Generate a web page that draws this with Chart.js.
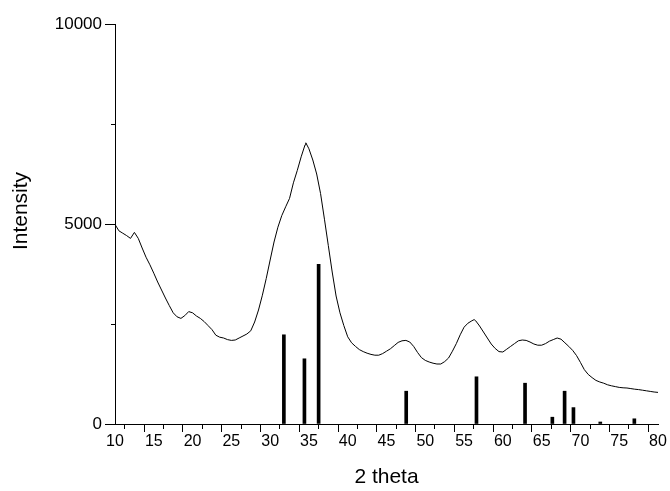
<!DOCTYPE html>
<html>
<head>
<meta charset="utf-8">
<script src="https://cdn.jsdelivr.net/npm/chart.js@4/dist/chart.umd.min.js"></script>
<style>
  html, body { margin: 0; padding: 0; background: #fff; }
  #wrap { width: 670px; height: 491px; }
</style>
</head>
<body>
<div id="wrap"><canvas id="xrd" width="670" height="491"></canvas></div>
<script>
// Measured diffraction pattern (2θ in degrees, intensity in counts)
const thetaDeg = [
  10, 10.5, 11, 11.5, 12, 12.5, 13, 13.5, 14, 14.5,
  15, 15.5, 16, 16.5, 17, 17.5, 18, 18.5, 19, 19.5,
  20, 20.5, 21, 21.5, 22, 22.5, 23, 23.5, 24, 24.5,
  25, 25.5, 26, 26.5, 27, 27.5, 28, 28.5, 29, 29.5,
  30, 30.5, 31, 31.5, 32, 32.5, 33, 33.5, 34, 34.5, 34.6,
  35, 35.5, 36, 36.5, 37, 37.5, 38, 38.5, 39, 39.5,
  40, 40.5, 41, 41.5, 42, 42.5, 43, 43.5, 44, 44.5,
  45, 45.5, 46, 46.5, 47, 47.5, 48, 48.5, 49, 49.5,
  50, 50.5, 51, 51.5, 52, 52.5, 53, 53.5, 54, 54.5,
  55, 55.5, 56, 56.3, 56.5, 57, 57.5, 58, 58.5, 59, 59.5,
  60, 60.5, 61, 61.5, 62, 62.5, 63, 63.5, 64, 64.5,
  65, 65.5, 66, 66.5, 67, 67.5, 68, 68.5, 69, 69.5,
  70, 70.5, 71, 71.5, 72, 72.5, 73, 73.5, 74, 74.5,
  75, 75.5, 76, 76.5, 77, 77.5, 78, 78.5, 79, 79.5, 80
];
const intensityCounts = [
  4990, 4830, 4770, 4710, 4640, 4790, 4640, 4400, 4170, 3980,
  3770, 3550, 3350, 3150, 2960, 2780, 2680, 2640, 2710, 2810,
  2780, 2700, 2640, 2560, 2460, 2360, 2220, 2170, 2150, 2110,
  2090, 2100, 2150, 2200, 2250, 2330, 2550, 2850, 3220, 3640,
  4100, 4550, 4920, 5210, 5430, 5640, 6030, 6340, 6680, 6980, 7030,
  6880, 6600, 6250, 5760, 5120, 4460, 3800, 3200, 2780, 2460,
  2180, 2030, 1940, 1860, 1810, 1770, 1740, 1720, 1720, 1760,
  1820, 1880, 1960, 2040, 2080, 2090, 2050, 1940, 1790, 1660,
  1590, 1550, 1520, 1500, 1500, 1560, 1650, 1820, 2010, 2230,
  2420, 2520, 2580, 2610, 2580, 2450, 2300, 2150, 2000, 1890, 1810,
  1800, 1870, 1940, 2010, 2080, 2100, 2090, 2050, 2000, 1970,
  1970, 2010, 2070, 2110, 2150, 2120, 2030, 1940, 1840, 1710,
  1540, 1360, 1240, 1160, 1090, 1050, 1020, 980, 955, 935,
  915, 905, 900, 885, 870, 860, 845, 830, 815, 800, 790
];

// Reference stick pattern (peak positions and relative heights)
const refPeakPos = [31.77, 34.42, 36.25, 47.54, 56.60, 62.86, 66.38, 67.96, 69.10, 72.56, 76.95];
const refPeakInt = [2230, 1630, 3990, 820, 1180, 1020, 170, 820, 410, 50, 130];

// Axis ranges and tick steps
const xMin = 10, xMax = 80, xMajor = 5, xMinor = 2.5;
const yMin = 0, yMax = 10000, yMajor = 5000, yMinor = 2500;

const xTitle = '2 theta';
const yTitle = 'Intensity';

const FONT = '"Liberation Sans", Arial, Helvetica, sans-serif';

const isMajor = (v, step) => Math.abs(v / step - Math.round(v / step)) < 1e-6;
// Minor ticks: only a short piece next to the axis stays visible.
// Bottom-axis ticks are stroked from the axis outward, left-axis ticks toward it.
const tickDash = (step, pattern) => (ctx) =>
  (ctx && ctx.tick && !isMajor(ctx.tick.value, step)) ? pattern : [];

// Vertical axis title, drawn beside the y axis
const yTitlePlugin = {
  id: 'yTitle',
  afterDraw(chart) {
    const ctx = chart.ctx;
    ctx.save();
    ctx.translate(21, 211);
    ctx.rotate(-Math.PI / 2);
    ctx.font = '21px ' + FONT;
    ctx.fillStyle = '#000';
    ctx.textAlign = 'center';
    ctx.textBaseline = 'middle';
    ctx.fillText(yTitle, 0, 0);
    ctx.restore();
  }
};

new Chart(document.getElementById('xrd'), {
  data: {
    datasets: [
      {
        type: 'line',
        data: thetaDeg.map((t, i) => ({ x: t, y: intensityCounts[i] })),
        borderColor: '#000',
        borderWidth: 1,
        pointRadius: 0,
        tension: 0,
        fill: false,
        order: 1
      },
      {
        type: 'bar',
        data: refPeakPos.map((p, i) => ({ x: p, y: refPeakInt[i] })),
        backgroundColor: '#000',
        borderWidth: 0,
        barThickness: 3,
        order: 2
      }
    ]
  },
  options: {
    responsive: false,
    animation: false,
    devicePixelRatio: 1,
    layout: { padding: { top: 24, right: 12, left: 0, bottom: 0 } },
    plugins: { legend: { display: false }, tooltip: { enabled: false } },
    scales: {
      x: {
        type: 'linear',
        min: xMin, max: xMax,
        offset: false,
        afterFit(scale) { scale.height = 67; },
        grid: {
          drawOnChartArea: false,
          drawTicks: true,
          tickLength: 8,
          tickColor: '#000',
          tickWidth: 1,
          tickBorderDash: tickDash(xMajor, [4, 100])
        },
        border: { display: true, color: '#000', width: 1 },
        ticks: {
          stepSize: xMinor,
          autoSkip: false,
          maxRotation: 0,
          padding: 0,
          color: '#000',
          font: { family: FONT, size: 16 },
          callback: (v) => isMajor(v, xMajor) ? String(v) : ''
        },
        title: {
          display: true,
          text: xTitle,
          color: '#000',
          font: { family: FONT, size: 21 },
          padding: { top: 0, bottom: 1 }
        }
      },
      y: {
        type: 'linear',
        min: yMin, max: yMax,
        afterFit(scale) { scale.width = 115; },
        grid: {
          drawOnChartArea: false,
          drawTicks: true,
          tickLength: 10,
          tickColor: '#000',
          tickWidth: 1,
          tickBorderDash: tickDash(yMajor, [0, 6, 4, 100])
        },
        border: { display: true, color: '#000', width: 1 },
        ticks: {
          stepSize: yMinor,
          autoSkip: false,
          padding: 3,
          color: '#000',
          font: { family: FONT, size: 17 },
          callback: (v) => isMajor(v, yMajor) ? String(v) : ''
        }
      }
    }
  },
  plugins: [yTitlePlugin]
});
</script>
</body>
</html>
